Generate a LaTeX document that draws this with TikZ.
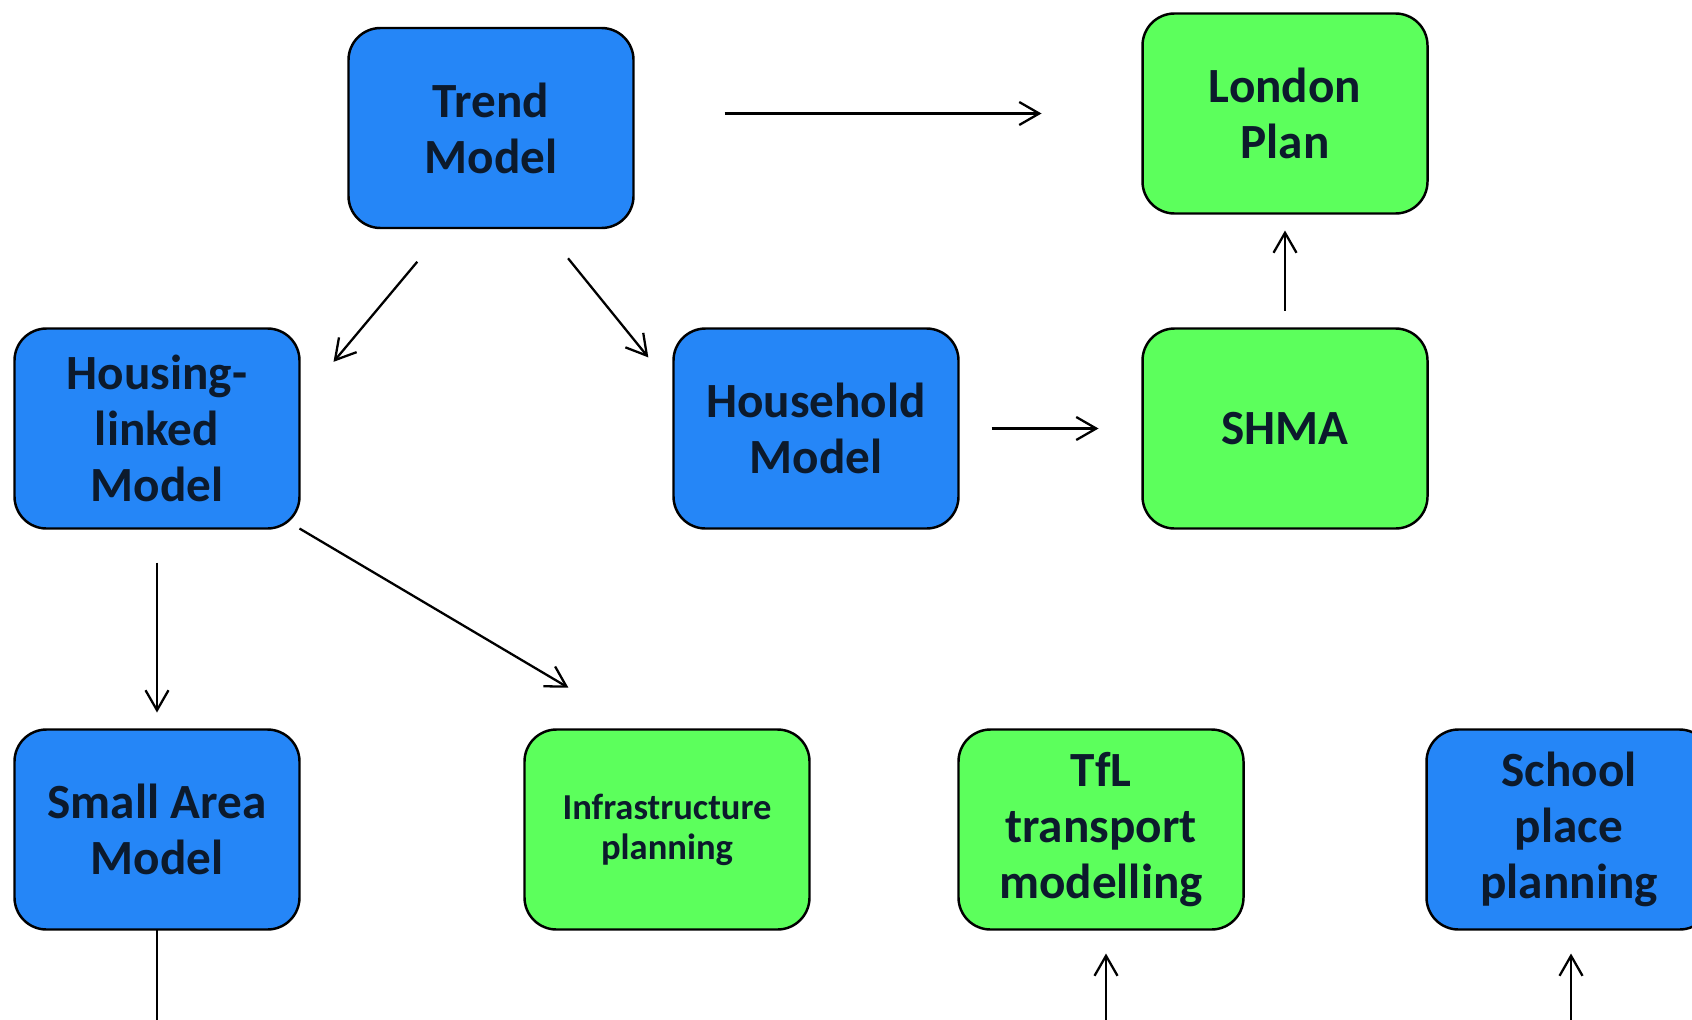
\documentclass[tikz,border=0pt]{standalone}
\usepackage{fontspec}
\setmainfont{Carlito}
\usepackage{xcolor}
\usepackage{tikz}
\usetikzlibrary{arrows.meta,positioning}
\definecolor{modelblue}{HTML}{2586F7}
\definecolor{usegreen}{HTML}{5CFF5C}
\definecolor{boxtext}{HTML}{0C1A2C}
\newcommand{\boxfont}{\bfseries\fontsize{14}{15.9}\selectfont}
\newcommand{\smallboxfont}{\bfseries\fontsize{10.4}{11.4}\selectfont}

\begin{document}
\begin{tikzpicture}[>={Straight Barb[length=2mm,width=2.3mm]}, line width=0.65pt]
        \tikzstyle{model} = [draw, rounded corners=0.32cm, minimum width=2.85cm, minimum height=2cm, inner sep=0pt, outer sep=0pt, align=center, text=boxtext, font=\boxfont, line width=0.7pt]
        \tikzstyle{blue} = [model, fill=modelblue]
        \tikzstyle{green} = [model, fill=usegreen]
        \useasboundingbox (0,0) rectangle (16.92,-10.19);
        \clip (0,0) rectangle (16.92,-10.19);
        \node[blue] (trend) at (4.91,-1.28) {Trend\\Model};
        \node[blue] (housing) at (1.57,-4.285) {Housing-\\linked\\Model};
        \node[blue, right = 3.74cm of housing] (household) {Household\\Model};
        \node[green, right = 1.84cm of household] (shma) {SHMA};
        \node[green, above = 1.15cm of shma] (london) {London\\Plan};
        \node[blue, below = 2.01cm of housing] (small) {Small Area\\Model};
        \node[green, right = 2.25cm of small, font=\smallboxfont] (infra) {Infrastructure\\planning};
        \node[green, right = 1.49cm of infra] (tfl) {TfL\\transport\\modelling};
        \node[blue, right = 1.83cm of tfl] (school) {School\\place\\planning};
        \coordinate (smallout) at ([yshift=-1.2cm]small.south);
        \coordinate (tflin) at ([xshift=0.05cm,yshift=-1.2cm]tfl.south);
        \coordinate (schoolin) at ([xshift=0.02cm,yshift=-1.2cm]school.south);

        \draw [->, shorten <=0.91cm, shorten >=1.01cm] (trend.east |- london.west) -- (london.west);
        \draw [->, shorten <=0.44cm, shorten >=0.53cm] ([xshift=-0.455cm]trend.south) -- ([yshift=0.26cm]housing.east);
        \draw [->, shorten <=0.39cm, shorten >=0.40cm] ([xshift=0.525cm]trend.south) -- ([yshift=0.40cm]household.west);
        \draw [->, shorten <=0.33cm, shorten >=0.44cm] (household) -- (shma);
        \draw [->, shorten <=0.18cm, shorten >=0.17cm] (shma) -- (london);
        \draw [->, shorten <=0.34cm, shorten >=0.17cm] (housing) -- (small);
        \draw [->, shorten >=0.82cm] (housing.south east) -- ([xshift=-0.28cm]infra.north);
        \draw (small) -- (smallout);
        \draw [->, shorten >=0.24cm] (tflin) -- (tflin |- tfl.south);
        \draw [->, shorten >=0.24cm] (schoolin) -- (schoolin |- school.south);
        \end{tikzpicture}
\end{document}
